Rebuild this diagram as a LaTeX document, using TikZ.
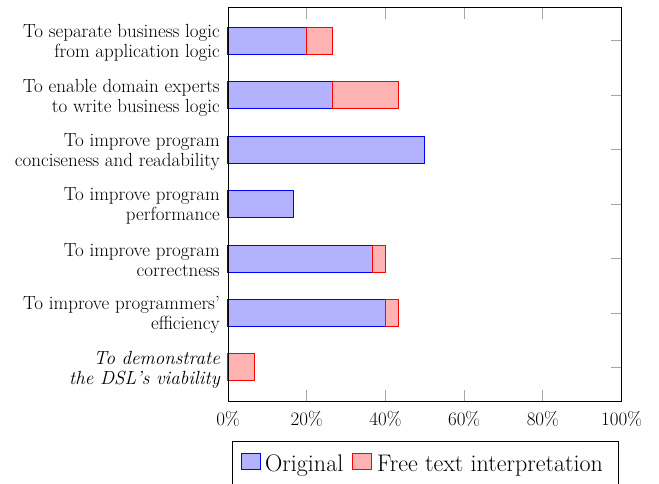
\documentclass[tikz,border=0pt]{standalone}
\usetikzlibrary{calc}
\begin{document}
\begin{tikzpicture}[x=1pt,y=-1pt,
  orig/.style={draw=blue,fill=blue!30,line width=1.1pt},
  free/.style={draw=red,fill=red!30,line width=1.1pt},
  tickmark/.style={draw=black!35,line width=1pt},
  txt/.style={font=\fontsize{19}{20}\selectfont,inner sep=0pt},
  lab/.style={txt,align=right,anchor=east},
  ticklab/.style={txt,anchor=base},
  legtxt/.style={font=\fontsize{24}{26}\selectfont,inner sep=0pt,anchor=base west}]
\useasboundingbox (0,0) rectangle (659,484);
% axis frame: x from 228 (0%) to 621.5 (100%), y from 8 to 401
\def\xo{228}\def\u{3.935}\def\hb{13.5}
% tick marks (bottom and top, inward) at 20..80 %
\foreach \p in {20,40,60,80}{
  \draw[tickmark] ({\xo+\p*\u},401) -- ++(0,-11);
  \draw[tickmark] ({\xo+\p*\u},8) -- ++(0,11);
}
% bars: index / original share / total share
\foreach \i/\a/\b in {1/20/26.667,2/26.667/43.333,3/50/50,4/16.667/16.667,
                      5/36.667/40,6/40/43.333,7/0/6.667}{
  \pgfmathsetmacro{\yc}{41+(\i-1)*54.4}
  \draw[tickmark] (621.5,\yc) -- ++(-11,0);
  \ifdim\a pt>0pt
    \draw[orig] (\xo,\yc-\hb) rectangle ({\xo+\a*\u},\yc+\hb);
  \fi
  \ifdim\b pt>\a pt
    \draw[free] ({\xo+\a*\u},\yc-\hb) rectangle ({\xo+\b*\u},\yc+\hb);
  \fi
}
\draw[line width=1pt] (\xo,8) rectangle ({\xo+100*\u},401);
% category labels
\node[lab] (c1) at (220,43) {To separate business logic\\from application logic};
\node[lab] (c2) at (220,97.4) {To enable domain experts\\to write business logic};
\node[lab] (c3) at (220,151.8) {To improve program\\conciseness and readability};
\node[lab] (c4) at (220,206.2) {To improve program\\performance};
\node[lab] (c5) at (220,260.6) {To improve program\\correctness};
\node[lab] (c6) at (220,315) {To improve programmers'\\efficiency};
\node[lab] (c7) at (220,369.4) {\itshape To demonstrate\\\itshape the DSL's viability};
% x tick labels
\foreach \p in {0,20,40,60,80,100}{
  \node[ticklab] (t\p) at ({\xo+\p*\u},425) {\p\%};
}
% legend
\draw[line width=1pt] (232,441) rectangle (618,500);
\draw[orig,line width=0.9pt] (241,453) rectangle (260,469);
\node[legtxt] (lo) at (265,471) {Original};
\draw[free,line width=0.9pt] (352,453) rectangle (371.5,469);
\node[legtxt] (lf) at (377,471) {Free text interpretation};
\end{tikzpicture}
\end{document}
